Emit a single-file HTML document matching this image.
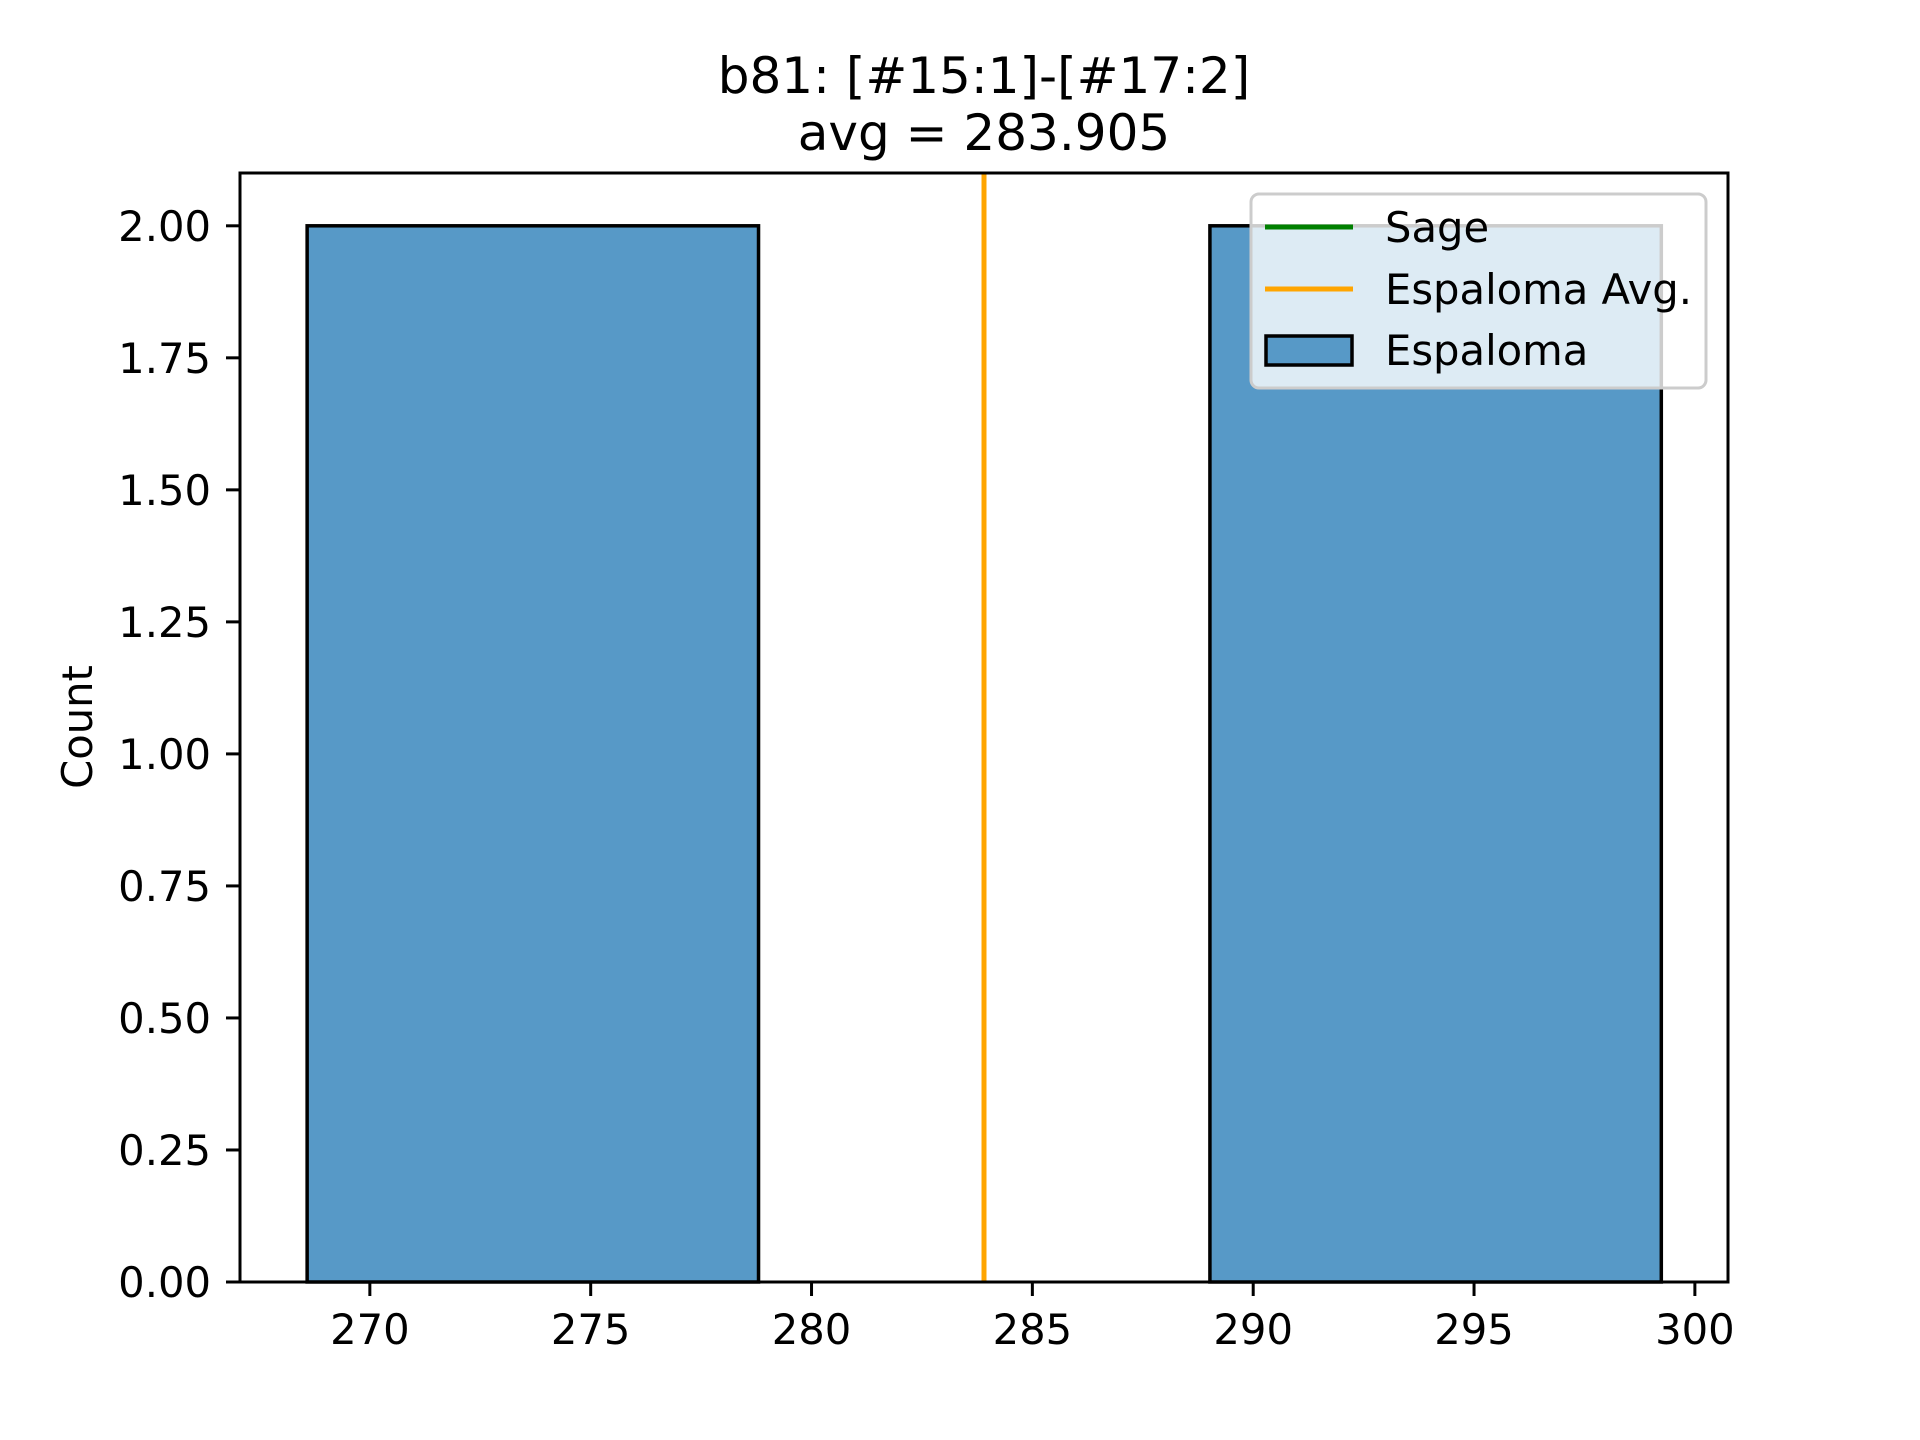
<!DOCTYPE html>
<html><head><meta charset="utf-8"><style>
html,body{margin:0;padding:0;background:#fff;}
svg{display:block;font-family:"DejaVu Sans","Liberation Sans",sans-serif;}
</style></head><body>
<svg id="chart" width="1920" height="1440" viewBox="0 0 1920 1440">
<rect width="1920" height="1440" fill="#fff"/>
<text x="984" y="93" font-size="50" text-anchor="middle">b81: [#15:1]-[#17:2]</text>
<text x="984" y="150" font-size="50" text-anchor="middle">avg = 283.905</text>
<g id="marks"></g>
<g id="axes"></g>
<text transform="translate(92,727) rotate(-90)" font-size="41.7" text-anchor="middle">Count</text>
<g>
<rect x="1251" y="194" width="455" height="194" rx="8" fill="#fff" fill-opacity="0.8" stroke="#ccc" stroke-width="3"/>
<line x1="1265" y1="227" x2="1353" y2="227" stroke="green" stroke-width="5"/>
<text x="1385" y="242" font-size="41.7">Sage</text>
<line x1="1265" y1="289" x2="1353" y2="289" stroke="orange" stroke-width="5"/>
<text x="1385" y="304" font-size="41.7">Espaloma Avg.</text>
<rect x="1266" y="336" width="86" height="29" fill="#5799c7" stroke="#000" stroke-width="3.5"/>
<text x="1385" y="365" font-size="41.7">Espaloma</text>
</g>
</svg>
<script>
const binEdges = [268.58, 278.8, 289.02, 299.24];
const counts = [2, 0, 2];
const avgValue = 283.905;
const xTicks = [270, 275, 280, 285, 290, 295, 300];
const yTicks = [0, 0.25, 0.5, 0.75, 1.0, 1.25, 1.5, 1.75, 2.0];
const yTickLabels = ["0.00","0.25","0.50","0.75","1.00","1.25","1.50","1.75","2.00"];

const L=240,R=1728,T=173,B=1282, xmin=267.06,xmax=300.75,ymin=0,ymax=2.1;
const sx=v=>L+(v-xmin)/(xmax-xmin)*(R-L);
const sy=v=>B-(v-ymin)/(ymax-ymin)*(B-T);
const NS="http://www.w3.org/2000/svg";
function mk(tag,attrs,parent){const e=document.createElementNS(NS,tag);for(const k in attrs)e.setAttribute(k,attrs[k]);parent.appendChild(e);return e;}
const marks=document.getElementById('marks'), axes=document.getElementById('axes');
counts.forEach((c,i)=>{
  const x0=sx(binEdges[i]),x1=sx(binEdges[i+1]);
  const r=mk('rect',{x:x0,y:sy(c),width:x1-x0,height:sy(0)-sy(c),fill:'#5799c7',stroke:'#000','stroke-width':3.5},marks);
  
  
});
const al=mk('line',{x1:sx(avgValue),x2:sx(avgValue),y1:T,y2:B,stroke:'orange','stroke-width':5},marks);


const fr=mk('rect',{x:L,y:T,width:R-L,height:B-T,fill:'none',stroke:'#000','stroke-width':3},axes);


xTicks.forEach(v=>{
  const x=sx(v);
  mk('line',{x1:x,x2:x,y1:B,y2:B+14,stroke:'#000','stroke-width':3},axes);
  const t=mk('text',{x:x,y:B+62,'font-size':41.7,'text-anchor':'middle'},axes);
  t.textContent=v;
  
  
});
yTicks.forEach((v,i)=>{
  const y=sy(v);
  mk('line',{x1:L-14,x2:L,y1:y,y2:y,stroke:'#000','stroke-width':3},axes);
  const t=mk('text',{x:L-29,y:y+15,'font-size':41.7,'text-anchor':'end'},axes);
  t.textContent=yTickLabels[i];
  
  
});
</script>
</body></html>
